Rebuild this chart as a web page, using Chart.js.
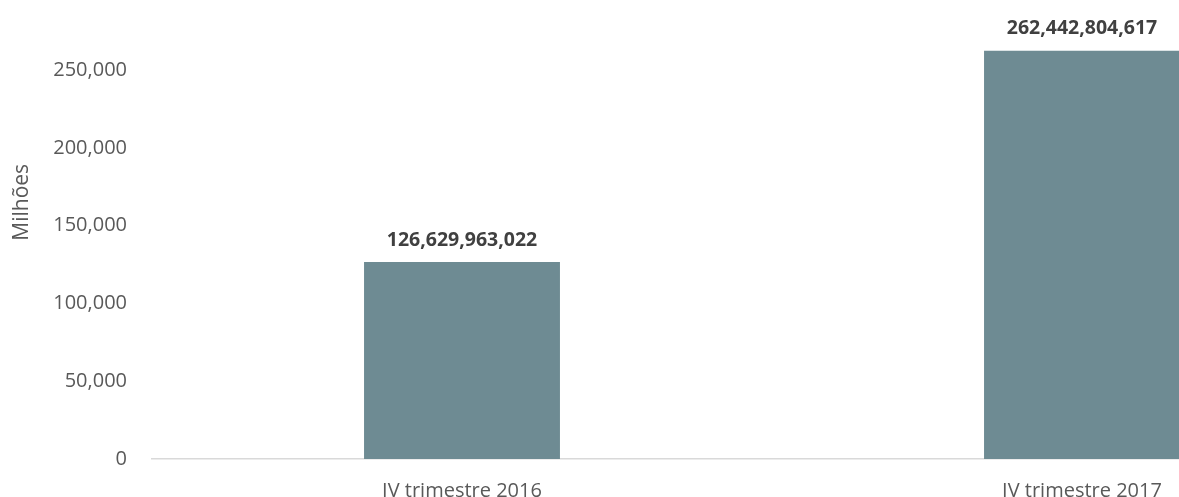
<!DOCTYPE html>
<html>
<head>
<meta charset="utf-8">
<script src="https://cdn.jsdelivr.net/npm/chart.js@4/dist/chart.umd.min.js"></script>
<style>
  html, body { margin: 0; padding: 0; background: #fff; overflow: hidden; }
  #wrap { width: 1400px; height: 497px; }
</style>
</head>
<body>
<div id="wrap"><canvas id="c" width="1400" height="497"></canvas></div>
<script>
const categories = ["IV trimestre 2016", "IV trimestre 2017"];
const rawValues = [126629963022, 262442804617];
const valuesMillions = rawValues.map(v => v / 1e6);
const yTicks = [0, 50000, 100000, 150000, 200000, 250000];
const axisTitle = "Milhões";

const FONT = "'Open Sans', sans-serif";
const fmt = new Intl.NumberFormat('en-US');

const labelPlugin = {
  id: 'barLabels',
  afterDatasetsDraw(chart) {
    const ctx = chart.ctx;
    const meta = chart.getDatasetMeta(0);
    ctx.save();
    ctx.font = "bold 19.5px " + FONT;
    ctx.fillStyle = '#404040';
    ctx.textAlign = 'center';
    ctx.textBaseline = 'middle';
    meta.data.forEach((bar, i) => {
      ctx.fillText(fmt.format(rawValues[i]), bar.x, bar.y - 22);
    });
    ctx.restore();
  }
};

const titlePlugin = {
  id: 'yTitle',
  afterDraw(chart) {
    const ctx = chart.ctx;
    const y = chart.scales.y;
    ctx.save();
    ctx.font = "21px " + FONT;
    ctx.fillStyle = '#595959';
    ctx.textAlign = 'center';
    ctx.textBaseline = 'middle';
    ctx.translate(22, y.getPixelForValue(165000));
    ctx.rotate(-Math.PI / 2);
    ctx.fillText(axisTitle, 0, 0);
    ctx.restore();
  }
};

new Chart(document.getElementById('c'), {
  type: 'bar',
  data: {
    labels: categories,
    datasets: [{
      data: valuesMillions,
      backgroundColor: '#6E8B93',
      borderWidth: 0,
      categoryPercentage: 1,
      barPercentage: 0.316
    }]
  },
  options: {
    responsive: false,
    animation: false,
    devicePixelRatio: 1,
    layout: { padding: { top: 39, left: 0, right: 8, bottom: 0 } },
    plugins: { legend: { display: false }, tooltip: { enabled: false } },
    scales: {
      x: {
        grid: { display: false, drawTicks: false },
        border: { display: true, color: '#d9d9d9', width: 1.5 },
        ticks: { color: '#595959', font: { family: FONT, size: 20 }, padding: 20, maxRotation: 0 },
        afterFit(scale) { scale.height = 38; }
      },
      y: {
        min: 0,
        max: 270000,
        grid: { display: false, drawTicks: false },
        border: { display: false },
        afterBuildTicks(scale) { scale.ticks = yTicks.map(v => ({ value: v })); },
        ticks: {
          color: '#595959',
          font: { family: FONT, size: 20 },
          padding: 25,
          callback: v => fmt.format(v)
        },
        afterFit(scale) { scale.width = 152; }
      }
    }
  },
  plugins: [labelPlugin, titlePlugin]
});
</script>
</body>
</html>
